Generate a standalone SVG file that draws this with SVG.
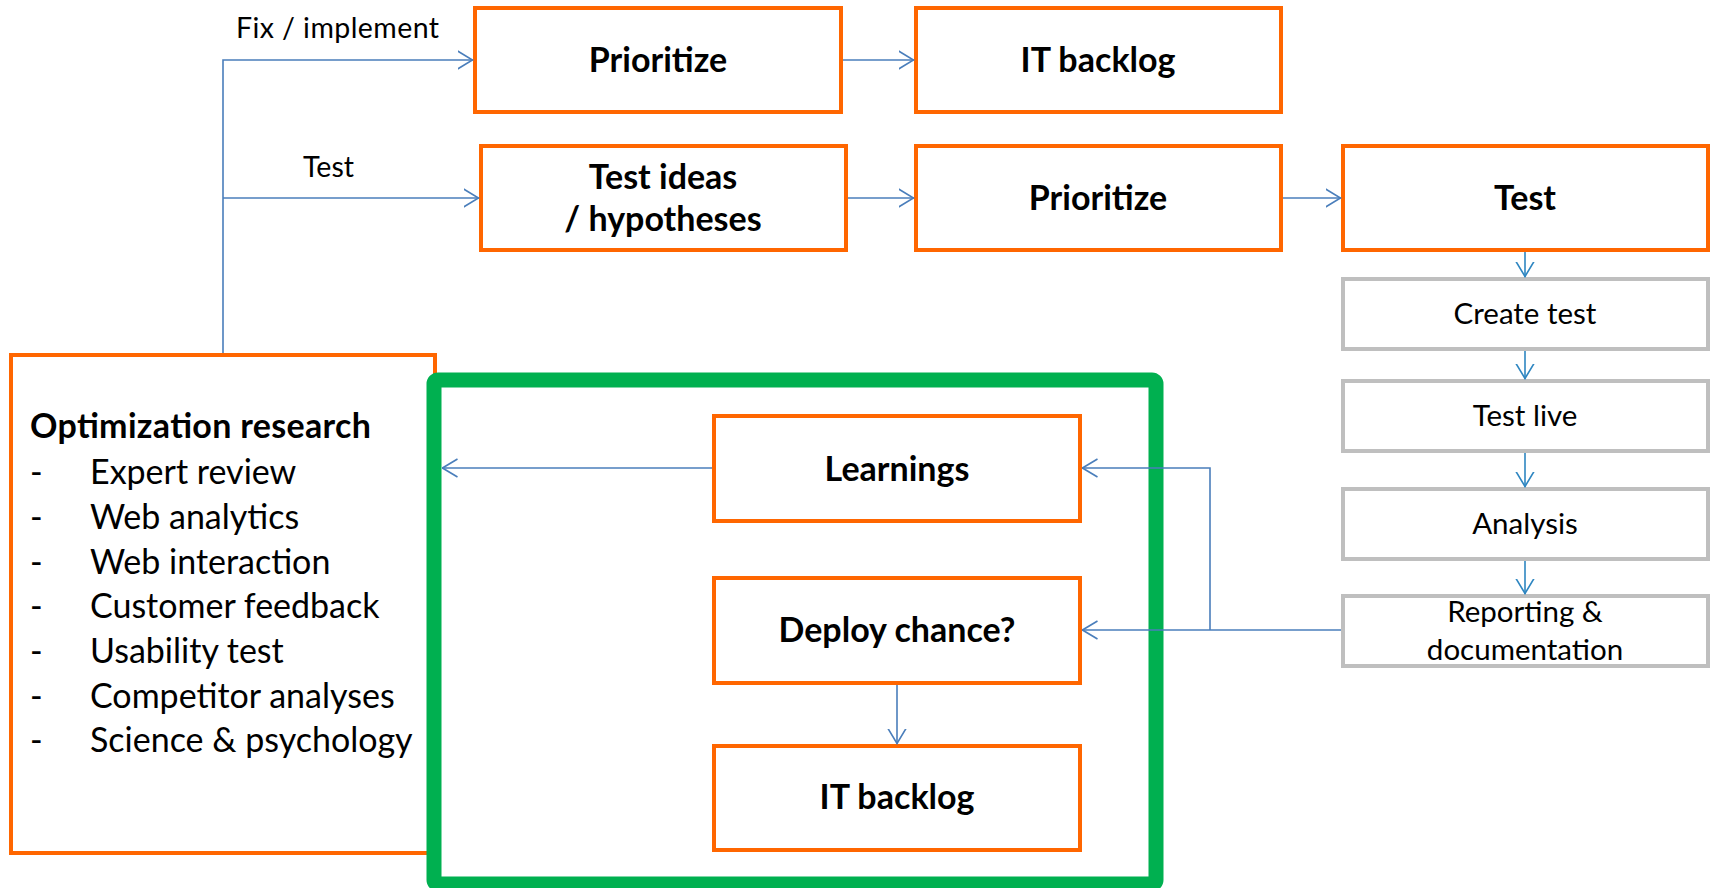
<svg xmlns="http://www.w3.org/2000/svg" width="1713" height="888" viewBox="0 0 1713 888">
<style>
.ob{fill:#fff;stroke:#FF6600;stroke-width:4}
.gb{fill:#fff;stroke:#BFBFBF;stroke-width:4}
.bt{font-family:Lato,"Liberation Sans",sans-serif;font-weight:bold;font-size:34px;fill:#000;text-anchor:middle}
.rt{font-family:Lato,"Liberation Sans",sans-serif;font-size:29.5px;fill:#000;text-anchor:middle}
.lt{font-family:Lato,"Liberation Sans",sans-serif;font-size:34px;fill:#000}
.cl{font-family:Lato,"Liberation Sans",sans-serif;font-size:28.5px;fill:#000}
.c{fill:none;stroke:#4A7EBB;stroke-width:1.6}
.c2{fill:none;stroke:#2E86C1;stroke-width:1.6}
</style>
<defs>
<marker id="a" viewBox="0 0 16 20" refX="15.5" refY="10" markerWidth="16" markerHeight="20" markerUnits="userSpaceOnUse" orient="auto"><path d="M0,1 L15,10 L0,19" fill="none" stroke="#4A7EBB" stroke-width="1.6"/></marker>
<marker id="a2" viewBox="0 0 16 20" refX="15.5" refY="10" markerWidth="16" markerHeight="20" markerUnits="userSpaceOnUse" orient="auto"><path d="M0,1 L15,10 L0,19" fill="none" stroke="#2E86C1" stroke-width="1.6"/></marker>
</defs>
<rect width="1713" height="888" fill="#fff"/>

<g id="research">
<rect class="ob" x="11" y="355" width="424" height="498"/>
<text class="lt" x="30" y="438" font-weight="bold" textLength="341">Optimization research</text>
<text class="lt" x="30" y="484">-</text><text class="lt" x="90" y="484">Expert review</text>
<text class="lt" x="30" y="529">-</text><text class="lt" x="90" y="529">Web analytics</text>
<text class="lt" x="30" y="574">-</text><text class="lt" x="90" y="574">Web interaction</text>
<text class="lt" x="30" y="618">-</text><text class="lt" x="90" y="618">Customer feedback</text>
<text class="lt" x="30" y="663">-</text><text class="lt" x="90" y="663">Usability test</text>
<text class="lt" x="30" y="708">-</text><text class="lt" x="90" y="708">Competitor analyses</text>
<text class="lt" x="30" y="752">-</text><text class="lt" x="90" y="752">Science &amp; psychology</text>
</g>

<g id="learning-loop">
<rect x="434" y="380" width="722" height="504" rx="4" fill="none" stroke="#00B050" stroke-width="15"/>
</g>

<g id="prioritize-fix"><rect class="ob" x="475" y="8" width="366" height="104"/><text class="bt" x="658" y="72">Prioritize</text></g>
<g id="it-backlog-top"><rect class="ob" x="916" y="8" width="365" height="104"/><text class="bt" x="1098" y="72" textLength="155">IT backlog</text></g>
<g id="test-ideas"><rect class="ob" x="481" y="146" width="365" height="104"/><text class="bt" x="663" y="189">Test ideas</text><text class="bt" x="663" y="231">/ hypotheses</text></g>
<g id="prioritize-test"><rect class="ob" x="916" y="146" width="365" height="104"/><text class="bt" x="1098" y="210">Prioritize</text></g>
<g id="test"><rect class="ob" x="1343" y="146" width="365" height="104"/><text class="bt" x="1525" y="210">Test</text></g>

<g id="create-test"><rect class="gb" x="1343" y="279" width="365" height="70"/><text class="rt" x="1525" y="324">Create test</text></g>
<g id="test-live"><rect class="gb" x="1343" y="381" width="365" height="70"/><text class="rt" x="1525" y="426">Test live</text></g>
<g id="analysis"><rect class="gb" x="1343" y="489" width="365" height="70"/><text class="rt" x="1525" y="534">Analysis</text></g>
<g id="reporting"><rect class="gb" x="1343" y="596" width="365" height="70"/><text class="rt" x="1525" y="622">Reporting &amp;</text><text class="rt" x="1525" y="660">documentation</text></g>

<g id="learnings"><rect class="ob" x="714" y="416" width="366" height="105"/><text class="bt" x="897" y="481">Learnings</text></g>
<g id="deploy"><rect class="ob" x="714" y="578" width="366" height="105"/><text class="bt" x="897" y="642">Deploy chance?</text></g>
<g id="it-backlog-bottom"><rect class="ob" x="714" y="746" width="366" height="104"/><text class="bt" x="897" y="809" textLength="155">IT backlog</text></g>

<g id="connectors">
<path class="c" d="M223,353 V60 H473" marker-end="url(#a)"/>
<path class="c" d="M223,198 H479" marker-end="url(#a)"/>
<path class="c" d="M843,60 H914" marker-end="url(#a)"/>
<path class="c" d="M848,198 H914" marker-end="url(#a)"/>
<path class="c" d="M1283,198 H1341" marker-end="url(#a)"/>
<path class="c2" d="M1525,252 V277" marker-end="url(#a2)"/>
<path class="c2" d="M1525,351 V379" marker-end="url(#a2)"/>
<path class="c2" d="M1525,453 V487" marker-end="url(#a2)"/>
<path class="c2" d="M1525,561 V594" marker-end="url(#a2)"/>
<path class="c" d="M1341,630 H1082" marker-end="url(#a)"/>
<path class="c" d="M1210,630 V468 H1082" marker-end="url(#a)"/>
<path class="c" d="M712,468 H442" marker-end="url(#a)"/>
<path class="c" d="M897,685 V744" marker-end="url(#a)"/>
<text class="cl" x="236" y="38" textLength="203">Fix / implement</text>
<text class="cl" x="303" y="177">Test</text>
</g>
</svg>
